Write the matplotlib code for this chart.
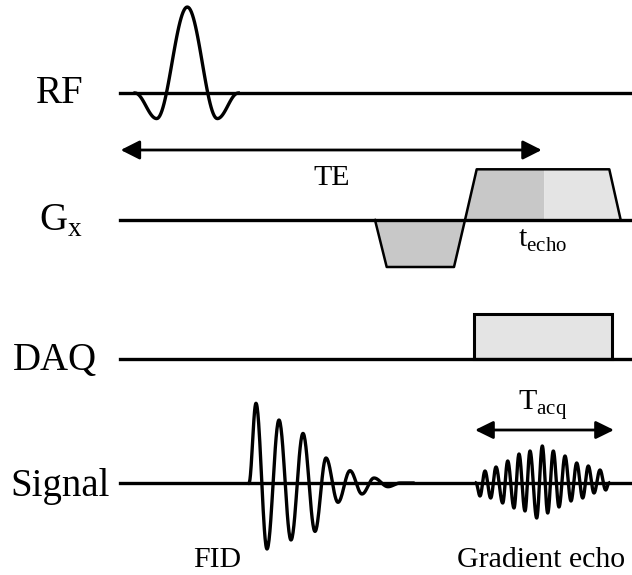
import matplotlib.pyplot as plt
import numpy as np
from matplotlib.patches import Polygon, Rectangle, FancyArrowPatch

plt.rcParams['font.family'] = ['Liberation Serif', 'DejaVu Serif']
plt.rcParams['mathtext.fontset'] = 'custom'
plt.rcParams['mathtext.rm'] = 'Liberation Serif'

# baselines of the four rows (pixel coords, y downwards)
row_names = ['RF', r'$\mathrm{G}_\mathrm{x}$', 'DAQ', 'Signal']
row_y = [93, 220, 359, 483]
row_label_x = [36, 39, 13, 10]
row_label_base = [103, 231, 370, 496]

# RF pulse: extrema (x, height above baseline)
rf_x = [135, 156.7, 187.3, 217.3, 238.3]
rf_amp = [0, -25.6, 86, -25.6, 0]

# gradient lobes
gx_neg = [(375, 0), (386.7, -47), (454, -47), (465, 0)]
gx_pos = [(465, 0), (476.7, 50.7), (609.3, 50.7), (620.7, 0)]
t_echo_x = 544.3

# acquisition window
daq_start, daq_end, daq_height = 474, 611.7, 45

# FID extrema
fid_x = [249, 256, 267, 279, 291, 303, 315, 326, 338, 350, 362, 374, 388, 400, 413]
fid_amp = [0, 79.7, -66, 63, -57, 49.6, -48.4, 25, -19.3, 12.3, -11, 5, -3.7, 0, 0]

# gradient echo extrema
echo_x = [476, 480, 485, 490.7, 496, 502.7, 507.7, 514, 519, 525, 530, 536.7, 542.3,
          547.7, 553.3, 559, 565, 571, 576.7, 582.7, 588.3, 594, 600, 605.7, 609]
echo_amp = [0, -13, 12, -15, 16, -20, 22, -25, 29, -28, 32, -35, 37,
            -30, 32, -24, 27, -18, 20, -15, 17, -10, 13, -7, 0]

dark_gray = '#c8c8c8'
light_gray = '#e4e4e4'


def wave(xs, amps, y0, n=30):
    # smooth curve through extrema (half-cosine between neighbours)
    px, py = [], []
    for i in range(len(xs) - 1):
        t = np.linspace(0, 1, n)
        s = (1 - np.cos(np.pi * t)) / 2
        px.extend(xs[i] + (xs[i + 1] - xs[i]) * t)
        py.extend(y0 - (amps[i] + (amps[i + 1] - amps[i]) * s))
    return px, py


fig = plt.figure(figsize=(6.32, 5.75), dpi=100)
ax = fig.add_axes([0, 0, 1, 1])
ax.set_xlim(0, 632)
ax.set_ylim(575, 0)
ax.axis('off')

# baselines and row labels
for name, y, lx, ly in zip(row_names, row_y, row_label_x, row_label_base):
    ax.plot([120, 631], [y, y], color='black', lw=2.4, zorder=3)
    ax.text(lx, ly, name, fontsize=28, ha='left', va='baseline')

# RF
x, y = wave(rf_x, rf_amp, row_y[0])
ax.plot(x, y, color='black', lw=2.4, zorder=4)

# Gx
y0 = row_y[1]
neg = [(px, y0 - a) for px, a in gx_neg]
ax.add_patch(Polygon(neg, closed=False, facecolor=dark_gray, edgecolor='none', zorder=1))
ax.plot([p[0] for p in neg], [p[1] for p in neg], color='black', lw=1.8, zorder=2)
pos = [(px, y0 - a) for px, a in gx_pos]
top = y0 - gx_pos[1][1]
ax.add_patch(Polygon([pos[0], pos[1], (t_echo_x, top), (t_echo_x, y0)],
                     facecolor=dark_gray, edgecolor='none', zorder=1))
ax.add_patch(Polygon([(t_echo_x, top), pos[2], pos[3], (t_echo_x, y0)],
                     facecolor=light_gray, edgecolor='none', zorder=1))
ax.plot([p[0] for p in pos], [p[1] for p in pos], color='black', lw=1.8, zorder=2)

# DAQ
ax.add_patch(Rectangle((daq_start, row_y[2] - daq_height), daq_end - daq_start, daq_height,
                       facecolor=light_gray, edgecolor='black', lw=2.2, zorder=2))

# signal
x, y = wave(fid_x, fid_amp, row_y[3])
ax.plot(x, y, color='black', lw=2.4, zorder=4)
x, y = wave(echo_x, echo_amp, row_y[3])
ax.plot(x, y, color='black', lw=2.4, zorder=4)

# arrows
te_arrow = FancyArrowPatch((120.7, 150), (541.7, 150), arrowstyle='<|-|>,head_length=11.5,head_width=5.8',
                           mutation_scale=1, shrinkA=0, shrinkB=0, color='black', lw=2.0)
ax.add_patch(te_arrow)
acq_arrow = FancyArrowPatch((475, 430), (614, 430), arrowstyle='<|-|>,head_length=11,head_width=5.4',
                            mutation_scale=1, shrinkA=0, shrinkB=0, color='black', lw=2.0)
ax.add_patch(acq_arrow)

# annotations
ax.text(331.5, 185, 'TE', fontsize=21.5, ha='center', va='baseline')
ax.text(518, 247, r'$\mathrm{t}_\mathrm{echo}$', fontsize=21.5, ha='left', va='baseline')
ax.text(518, 410, r'$\mathrm{T}_\mathrm{acq}$', fontsize=21.5, ha='left', va='baseline')
ax.text(193, 567, 'FID', fontsize=21.5, ha='left', va='baseline')
ax.text(457, 567, 'Gradient echo', fontsize=21.5, ha='left', va='baseline')

plt.savefig('out.png', dpi=100)
